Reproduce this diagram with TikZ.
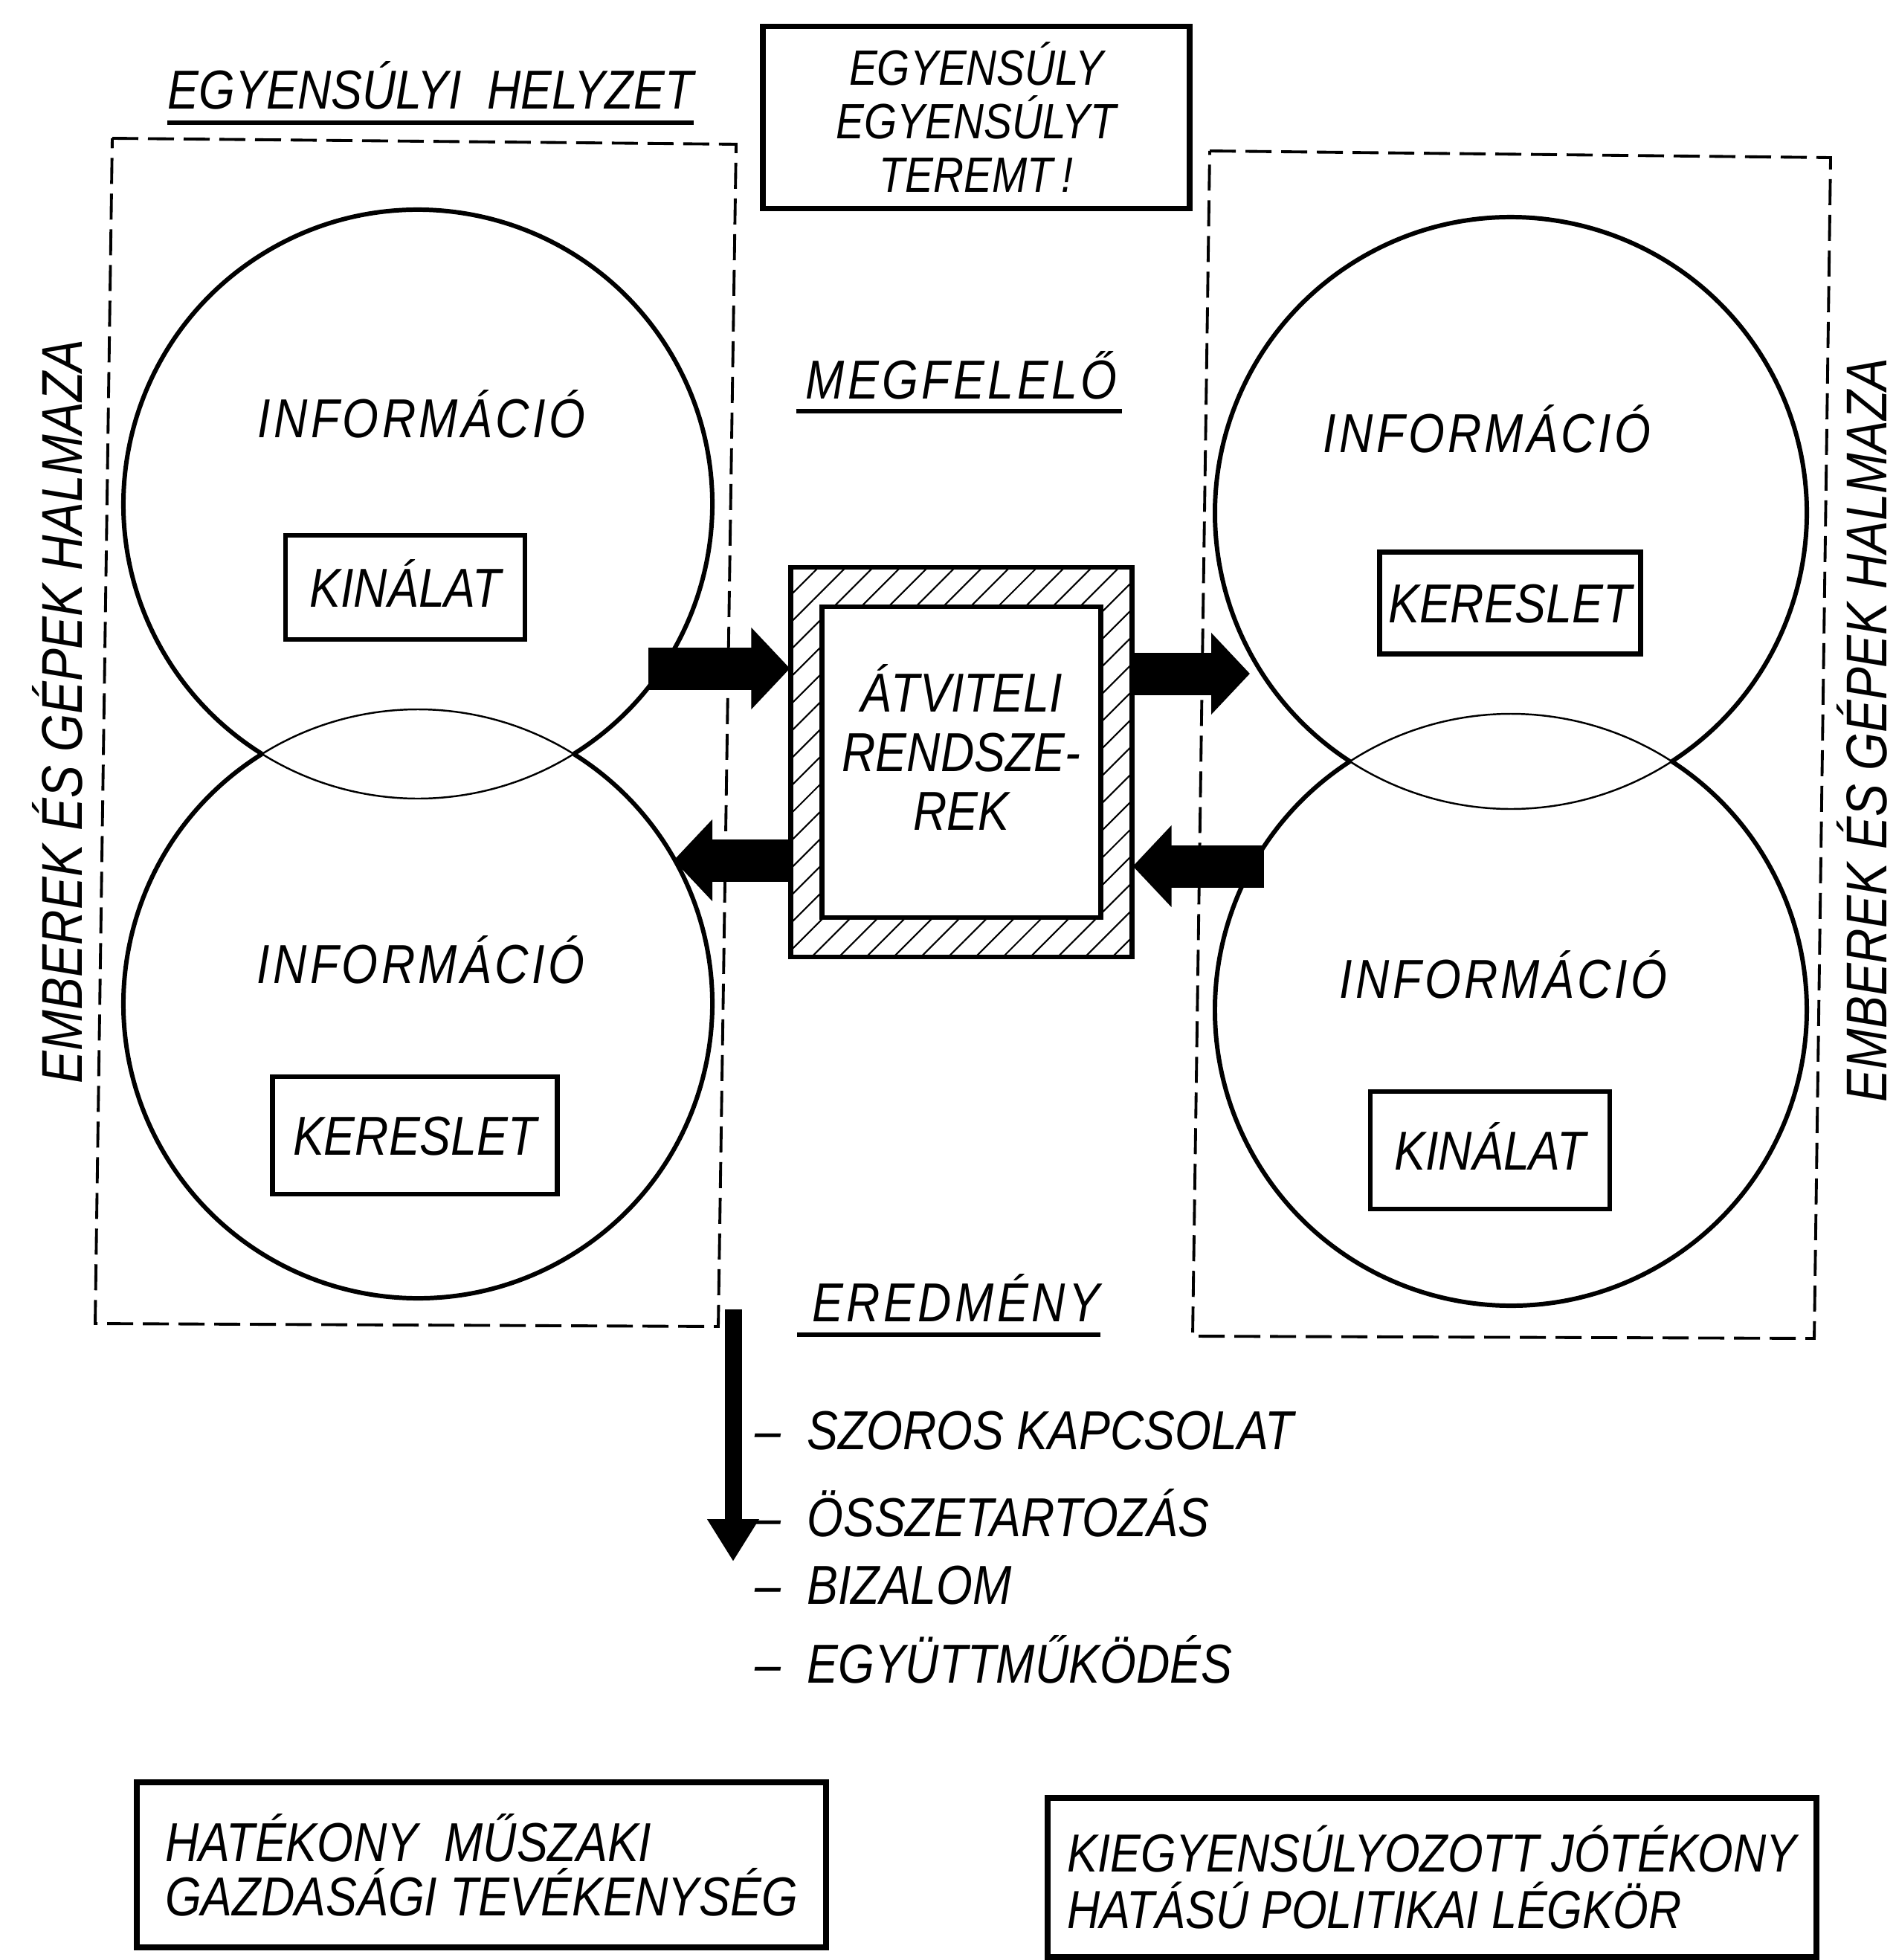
\documentclass[tikz,border=0pt]{standalone}
\usepackage{fontspec}
\setmainfont{Liberation Sans}[FakeStretch=0.85]
\newfontfamily\spacedfont{Liberation Sans}[FakeStretch=0.85, LetterSpace=6]
\usepackage{tikz}
\usetikzlibrary{arrows.meta,positioning,calc,patterns.meta}

\begin{document}
\begin{tikzpicture}[
    lettering/.style={font=\fontsize{21}{22}\selectfont\itshape, inner sep=0pt},
    spaced/.style={font=\spacedfont\fontsize{21}{22}\selectfont\itshape, inner sep=0pt},
    keybox/.style={draw, line width=1.8pt, inner sep=0pt, lettering,
                   text height=15pt, text depth=0pt},
    framebox/.style={draw, line width=2.2pt, inner sep=0pt},
    dashbox/.style={line width=1.1pt, dash pattern=on 3.5mm off 1.3mm},
    ring/.style={line width=1.7pt},
    lens/.style={line width=0.7pt},
    uline/.style={line width=1.6pt},
    bigarrow/.style={line width=5.7mm, -{Triangle[length=5.2mm,width=10.7mm]}},
    downarrow/.style={line width=2.3mm, -{Triangle[length=5.7mm,width=6.6mm]}}
  ]
    \useasboundingbox (0,0) rectangle (25.49,-26.36);

    % Title and motto
    \node[lettering, anchor=base] (eqstate) at (5.79,-1.47) {EGYENSÚLYI\ \ HELYZET};
    \draw[uline] ([yshift=-1.8mm]eqstate.base west) -- ([yshift=-1.8mm]eqstate.base east);
    \node[framebox, minimum width=5.74cm, minimum height=2.45cm, align=center,
          font=\fontsize{19}{20.5}\selectfont\itshape] (motto) at (13.13,-1.58)
      {EGYENSÚLY\\EGYENSÚLYT\\TEREMT\,!};

    % Dashed frames
    \draw[dashbox] (1.51,-1.86) -- (9.90,-1.94) -- (9.66,-17.84) -- (1.28,-17.80) -- cycle;
    \draw[dashbox] (16.27,-2.03) -- (24.62,-2.12) -- (24.40,-18.00) -- (16.04,-17.97) -- cycle;

    % Side labels
    \node[font=\fontsize{22}{24}\selectfont\itshape, inner sep=0pt, rotate=90, anchor=base]
      (peopleL) at (1.10,-9.57) {EMBEREK ÉS GÉPEK HALMAZA};
    \node[font=\fontsize{22}{24}\selectfont\itshape, inner sep=0pt, rotate=90, anchor=base]
      (peopleR) at (25.37,-9.82) {EMBEREK ÉS GÉPEK HALMAZA};

    % Left pair of circles
    \coordinate (c1) at (5.62,-6.78);
    \coordinate (c2) at (5.62,-13.50);
    \draw[ring] (c1) ++(-58:3.96) arc[start angle=-58, end angle=238, radius=3.96];
    \draw[lens] (c1) ++(-122:3.96) arc[start angle=-122, end angle=-58, radius=3.96];
    \draw[ring] (c2) ++(122:3.96) arc[start angle=122, end angle=418, radius=3.96];
    \draw[lens] (c2) ++(58:3.96) arc[start angle=58, end angle=122, radius=3.96];

    % Right pair of circles
    \coordinate (c3) at (20.32,-6.90);
    \coordinate (c4) at (20.32,-13.58);
    \draw[ring] (c3) ++(-57:3.98) arc[start angle=-57, end angle=237, radius=3.98];
    \draw[lens] (c3) ++(-123:3.98) arc[start angle=-123, end angle=-57, radius=3.98];
    \draw[ring] (c4) ++(123:3.98) arc[start angle=123, end angle=417, radius=3.98];
    \draw[lens] (c4) ++(57:3.98) arc[start angle=57, end angle=123, radius=3.98];

    % Circle contents
    \node[spaced, anchor=base] (info1) at (5.67,-5.88) {INFORMÁCIÓ};
    \node[spaced, anchor=base] (info2) at (5.66,-13.22) {INFORMÁCIÓ};
    \node[spaced, anchor=base] (info3) at (20.00,-6.08) {INFORMÁCIÓ};
    \node[spaced, anchor=base] (info4) at (20.22,-13.42) {INFORMÁCIÓ};
    \node[keybox, minimum width=3.22cm, minimum height=1.40cm] (offer1) at (5.45,-7.90) {KINÁLAT};
    \node[keybox, minimum width=3.83cm, minimum height=1.58cm] (demand1) at (5.58,-15.27) {KERESLET};
    \node[keybox, minimum width=3.51cm, minimum height=1.37cm] (demand2) at (20.31,-8.11) {KERESLET};
    \node[keybox, minimum width=3.22cm, minimum height=1.58cm] (offer2) at (20.04,-15.47) {KINÁLAT};

    % Transfer systems
    \node[spaced, anchor=base] (match) at (12.93,-5.36) {MEGFELELŐ};
    \draw[uline] ([xshift=-1.2mm,yshift=-1.7mm]match.base west) -- ([xshift=0.6mm,yshift=-1.7mm]match.base east);
    \node[draw, line width=1.8pt, pattern={Lines[angle=45,distance=2.6mm,line width=0.6pt]},
          minimum width=4.59cm, minimum height=5.24cm] (sys) at (12.93,-10.25) {};
    \node[draw, line width=1.8pt, fill=white, minimum width=3.75cm, minimum height=4.18cm]
      (sysin) at (sys.center) {};
    \node[lettering, align=center, font=\fontsize{21}{22.7}\selectfont\itshape]
      (systxt) at ([yshift=2.0mm]sysin.center) {ÁTVITELI\\RENDSZE-\\REK};

    % Flows
    \coordinate (a1) at (8.72,-8.99);
    \draw[bigarrow] (a1) -- (a1 -| sys.west);
    \coordinate (a2) at (16.81,-9.06);
    \draw[bigarrow] (a2 -| sys.east) -- (a2);
    \coordinate (a3) at (9.06,-11.57);
    \draw[bigarrow] (a3 -| sys.west) -- (a3);
    \coordinate (a4) at (17.00,-11.65);
    \draw[bigarrow] (a4) -- (a4 -| sys.east);

    % Result
    \node[spaced, anchor=base] (result) at (12.86,-17.77) {EREDMÉNY};
    \draw[uline] ([xshift=-2mm,yshift=-1.8mm]result.base west) -- ([yshift=-1.8mm]result.base east);
    \coordinate (rtop) at (9.86,-17.61);
    \coordinate (rtip) at (9.86,-21.00);
    \draw[downarrow] (rtop) -- (rtip);
    \node[lettering, anchor=base west] (r1) at (10.15,-19.49) {--\ \ SZOROS KAPCSOLAT};
    \node[lettering, anchor=base west] (r2) at (10.15,-20.66) {--\ \ ÖSSZETARTOZÁS};
    \node[lettering, anchor=base west] (r3) at (10.15,-21.57) {--\ \ BIZALOM};
    \node[lettering, anchor=base west] (r4) at (10.15,-22.63) {--\ \ EGYÜTTMŰKÖDÉS};

    % Bottom boxes
    \node[framebox, minimum width=9.27cm, minimum height=2.22cm, align=left,
          font=\fontsize{21}{20.7}\selectfont\itshape] (tech) at (6.475,-25.08)
      {HATÉKONY\ \ MŰSZAKI\\GAZDASÁGI TEVÉKENYSÉG};
    \node[framebox, minimum width=10.34cm, minimum height=2.14cm, align=left,
          font=\fontsize{20.5}{21.6}\selectfont\itshape] (policy) at (19.26,-25.25)
      {KIEGYENSÚLYOZOTT JÓTÉKONY\\HATÁSÚ POLITIKAI LÉGKÖR};
\end{tikzpicture}
\end{document}
